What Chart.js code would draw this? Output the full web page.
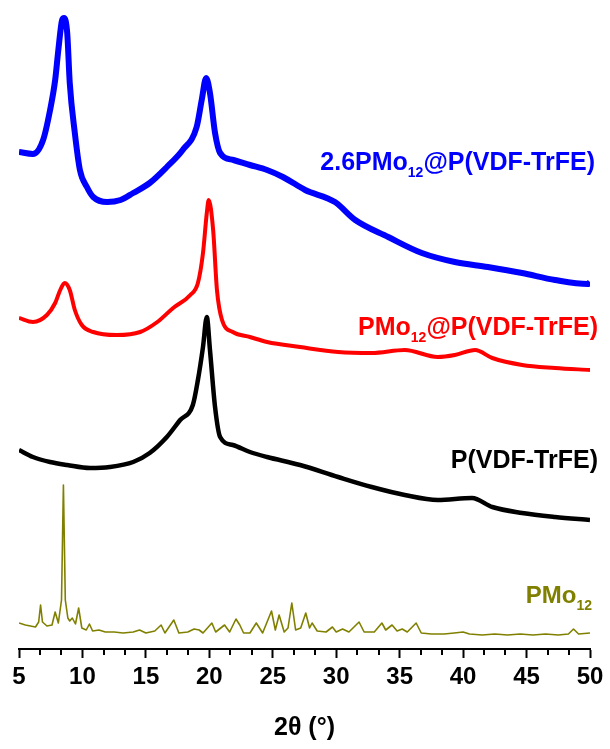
<!DOCTYPE html>
<html>
<head>
<meta charset="utf-8">
<script src="https://cdn.jsdelivr.net/npm/chart.js@4"></script>
<style>
  html, body { margin: 0; padding: 0; background: #fff; }
  #wrap { width: 610px; height: 749px; }
</style>
</head>
<body>
<div id="wrap"><canvas id="xrd"></canvas></div>
<script>
const fontFamily = "Arial, 'Liberation Sans', sans-serif";

// 2.6PMo12@P(VDF-TrFE) (blue), stacked intensity (a.u.)
const compTheta = [5.0, 6.1, 6.9, 7.45, 7.85, 8.1, 8.4, 8.55, 8.8, 9.0, 9.4, 9.8, 10.35, 10.85, 11.95, 13.0, 14.0, 15.3, 16.65, 17.9, 19.0, 19.4, 19.75, 20.05, 20.45, 20.85, 21.9, 23.2, 24.55, 25.8, 27.15, 27.55, 29.9, 31.5, 34.1, 36.75, 39.35, 41.95, 44.65, 47.25, 49.85, 50.0];
const compInt = [497, 495, 509, 539, 569, 599, 629, 631, 616, 566, 516, 479, 462, 452, 447, 449, 456, 466, 482, 499, 522, 549, 571, 556, 516, 496, 489, 484, 479, 472, 462, 459, 447, 429, 412, 396, 387, 382, 376, 369, 365, 367];

// PMo12@P(VDF-TrFE) (red)
const mixTheta = [5.0, 6.1, 7.2, 7.85, 8.25, 8.6, 9.0, 9.4, 9.95, 10.85, 12.7, 14.55, 15.9, 17.15, 18.5, 19.1, 19.5, 19.8, 19.95, 20.3, 20.6, 21.0, 21.85, 23.2, 24.55, 27.15, 30.15, 32.8, 35.4, 38.0, 39.35, 40.95, 42.3, 44.65, 47.25, 50.0];
const mixInt = [331, 327, 334, 346, 359, 366, 359, 339, 324, 317, 314, 317, 327, 341, 354, 366, 396, 436, 449, 419, 359, 329, 317, 312, 307, 302, 297, 296, 299, 292, 294, 299, 291, 284, 281, 279];

// P(VDF-TrFE) (black)
const polyTheta = [5.0, 6.1, 7.45, 8.8, 10.6, 12.15, 14.0, 15.3, 16.65, 17.7, 18.7, 19.1, 19.5, 19.8, 20.05, 20.45, 20.85, 21.85, 23.2, 24.55, 27.15, 30.15, 32.8, 35.4, 38.0, 40.7, 42.3, 44.65, 47.25, 50.0];
const polyInt = [199, 192, 187, 184, 181, 182, 187, 196, 212, 229, 244, 269, 302, 332, 299, 242, 212, 204, 197, 192, 184, 172, 162, 154, 149, 151, 142, 136, 132, 129];

// PMo12 (olive)
const pmoTheta = [5.0, 5.5, 6.3, 6.55, 6.7, 6.85, 7.2, 7.6, 7.85, 8.1, 8.35, 8.5, 8.65, 8.85, 9.0, 9.2, 9.45, 9.7, 9.95, 10.3, 10.55, 10.8, 11.3, 11.8, 12.5, 13.2, 14.0, 14.5, 15.0, 15.7, 16.2, 16.5, 17.2, 17.6, 18.3, 18.8, 19.2, 19.5, 20.2, 20.5, 21.2, 21.6, 22.1, 22.4, 22.7, 23.2, 23.7, 24.2, 24.9, 25.2, 25.5, 25.9, 26.2, 26.5, 26.8, 27.2, 27.6, 27.9, 28.1, 28.5, 29.2, 29.7, 30.0, 30.5, 31.0, 31.8, 32.2, 33.0, 33.6, 33.9, 34.4, 34.8, 35.2, 35.6, 36.3, 36.7, 37.5, 38.5, 39.3, 40.0, 40.5, 41.5, 42.5, 43.5, 44.5, 45.5, 46.5, 47.5, 48.3, 48.7, 49.1, 50.0];
const pmoInt = [26, 24, 22, 27, 44, 27, 23, 24, 37, 26, 49, 164, 49, 31, 28, 31, 25, 41, 21, 19, 25, 18, 19, 17, 17, 16, 17, 19, 16, 18, 24, 16, 29, 16, 17, 20, 19, 16, 26, 17, 24, 17, 30, 24, 16, 16, 26, 16, 38, 19, 34, 17, 21, 46, 19, 21, 36, 21, 26, 18, 17, 22, 17, 20, 17, 27, 17, 17, 26, 19, 24, 18, 20, 17, 26, 16, 15, 15, 16, 17, 15, 14, 15, 14, 15, 14, 15, 14, 15, 20, 15, 16];

const xTicksMajor = [5, 10, 15, 20, 25, 30, 35, 40, 45, 50];

const toPoints = (xs, ys) => xs.map((x, i) => ({ x, y: ys[i] }));

// curve labels: right edge and baseline in canvas px, text parts with subscripts
const curveLabels = [
  { color: "#0000ff", right: 595, base: 170, size: 25, parts: [["2.6PMo", false], ["12", true], ["@P(VDF-TrFE)", false]] },
  { color: "#ff0000", right: 598, base: 335, size: 25, parts: [["PMo", false], ["12", true], ["@P(VDF-TrFE)", false]] },
  { color: "#000000", right: 598, base: 468, size: 25, parts: [["P(VDF-TrFE)", false]] },
  { color: "#808000", right: 592, base: 603, size: 24, parts: [["PMo", false], ["12", true]] },
];

const labelPlugin = {
  id: "curveLabels",
  afterDatasetsDraw(chart) {
    const ctx = chart.ctx;
    ctx.save();
    ctx.textBaseline = "alphabetic";
    ctx.textAlign = "left";
    curveLabels.forEach((lab) => {
      const subSize = Math.round(lab.size * 0.58);
      let width = 0;
      lab.parts.forEach(([t, sub]) => {
        ctx.font = `bold ${sub ? subSize : lab.size}px ${fontFamily}`;
        width += ctx.measureText(t).width;
      });
      let x = lab.right - width;
      ctx.fillStyle = lab.color;
      lab.parts.forEach(([t, sub]) => {
        ctx.font = `bold ${sub ? subSize : lab.size}px ${fontFamily}`;
        ctx.fillText(t, x, sub ? lab.base + 7 : lab.base);
        x += ctx.measureText(t).width;
      });
    });
    ctx.restore();
  },
};

// short minor ticks, two between each labelled tick
const minorTickPlugin = {
  id: "minorTicks",
  afterDraw(chart) {
    const xs = chart.scales.x;
    const ctx = chart.ctx;
    const y0 = chart.chartArea.bottom;
    ctx.save();
    ctx.strokeStyle = "#000";
    ctx.lineWidth = 2;
    for (let i = 0; i < xTicksMajor.length - 1; i++) {
      [1, 2].forEach((k) => {
        const px = Math.round(xs.getPixelForValue(xTicksMajor[i] + (5 * k) / 3));
        ctx.beginPath();
        ctx.moveTo(px, y0);
        ctx.lineTo(px, y0 + 6);
        ctx.stroke();
      });
    }
    ctx.restore();
  },
};

const datasetStyle = (label, data, color, width, smooth) => ({
  label,
  data,
  borderColor: color,
  backgroundColor: color,
  borderWidth: width,
  borderJoinStyle: "round",
  pointRadius: 0,
  showLine: true,
  tension: 0,
  cubicInterpolationMode: smooth ? "monotone" : "default",
});

new Chart(document.getElementById("xrd").getContext("2d"), {
  type: "scatter",
  data: {
    datasets: [
      datasetStyle("2.6PMo12@P(VDF-TrFE)", toPoints(compTheta, compInt), "#0000ff", 6, true),
      datasetStyle("PMo12@P(VDF-TrFE)", toPoints(mixTheta, mixInt), "#ff0000", 4, true),
      datasetStyle("P(VDF-TrFE)", toPoints(polyTheta, polyInt), "#000000", 4.5, true),
      datasetStyle("PMo12", toPoints(pmoTheta, pmoInt), "#808000", 1.6, false),
    ],
  },
  options: {
    animation: false,
    responsive: true,
    maintainAspectRatio: false,
    layout: { padding: { left: 19, right: 20, top: 0, bottom: 0 } },
    scales: {
      x: {
        type: "linear",
        min: 5,
        max: 50,
        afterFit: (scale) => { scale.height = 100; },
        afterBuildTicks: (scale) => { scale.ticks = xTicksMajor.map((v) => ({ value: v })); },
        border: { display: true, color: "#000", width: 2 },
        grid: { display: true, drawOnChartArea: false, drawTicks: true, tickLength: 9, tickWidth: 2, tickColor: "#000" },
        ticks: { color: "#000", padding: 5, font: { family: fontFamily, size: 24, weight: "bold" } },
        title: {
          display: true,
          text: "2θ (°)",
          color: "#000",
          padding: { top: 0, bottom: 6 },
          font: { family: fontFamily, size: 25, weight: "bold" },
        },
      },
      y: { display: false, min: 0, max: 649 },
    },
    plugins: {
      legend: { display: false },
      tooltip: { enabled: false },
    },
  },
  plugins: [labelPlugin, minorTickPlugin],
});
</script>
</body>
</html>
